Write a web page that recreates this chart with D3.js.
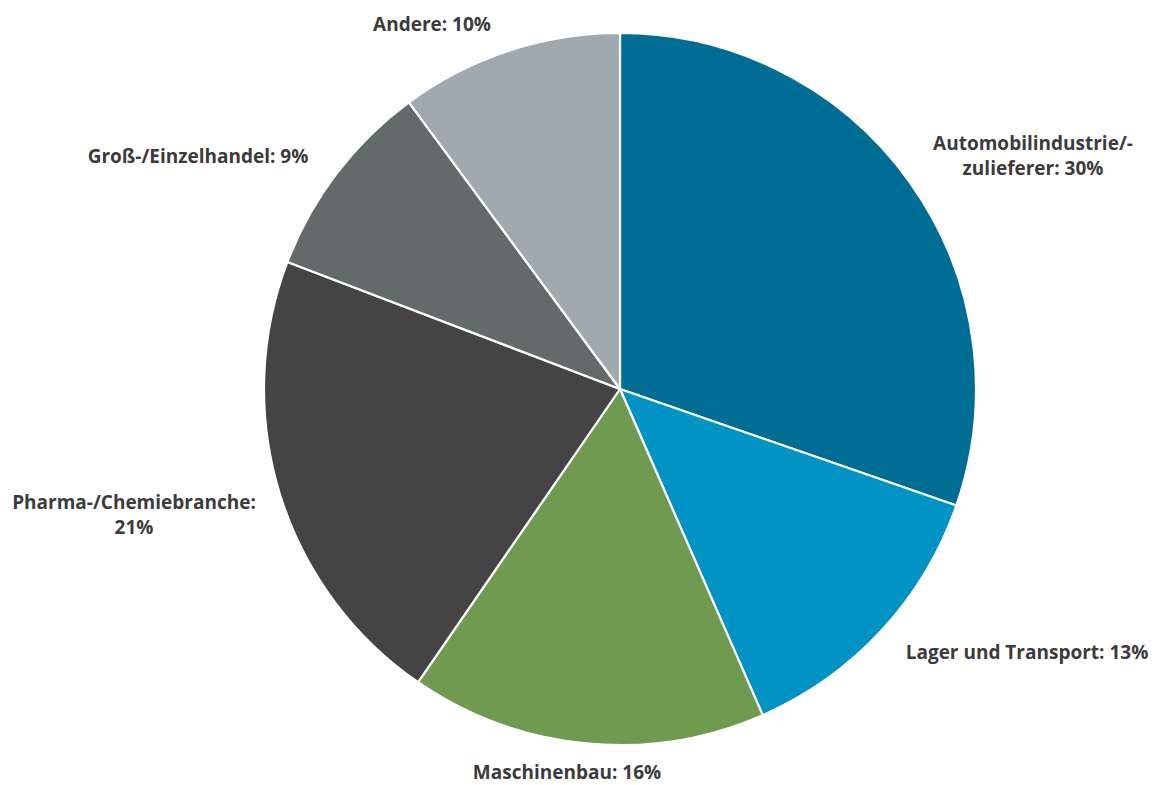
<!DOCTYPE html>
<html>
<head>
<meta charset="utf-8">
<script src="https://cdn.jsdelivr.net/npm/d3@7"></script>
<style>
  html, body { margin: 0; padding: 0; background: #ffffff; }
  svg { display: block; }
  .lbl { font-family: "Open Sans", "Noto Sans", sans-serif; font-weight: 700; font-size: 19px; fill: #3b3b3b; }
</style>
</head>
<body>
<svg id="chart" width="1158" height="785"></svg>
<script>
// Branchenverteilung (Anteile in %)
const categories = ["Automobilindustrie/-zulieferer", "Lager und Transport", "Maschinenbau", "Pharma-/Chemiebranche", "Groß-/Einzelhandel", "Andere"];
const values = [30, 13, 16, 21, 9, 10];
const labelLines = [
  ["Automobilindustrie/-", "zulieferer: 30%"],
  ["Lager und Transport: 13%"],
  ["Maschinenbau: 16%"],
  ["Pharma-/Chemiebranche:", "21%"],
  ["Groß-/Einzelhandel: 9%"],
  ["Andere: 10%"]
];
const colors = ["#006d95", "#0093c3", "#719a51", "#444444", "#626a6a", "#a1a9b0"];

// label anchor points (centre of text block, first baseline)
const labelPos = [
  [1033, 150], [1027, 659], [567, 779], [134, 509], [198, 163], [432, 31]
];

const svg = d3.select("#chart");
const cx = 620, cy = 389, r = 356;

const pie = d3.pie().sort(null).value(d => d)
  .startAngle(0).endAngle(2 * Math.PI);
const arc = d3.arc().innerRadius(0).outerRadius(r);

const g = svg.append("g").attr("transform", `translate(${cx},${cy})`);
g.selectAll("path")
  .data(pie(values))
  .join("path")
  .attr("d", arc)
  .attr("fill", (d, i) => colors[i])
  .attr("stroke", "#ffffff")
  .attr("stroke-width", 2.2)
  .attr("stroke-linejoin", "round");

const labels = svg.append("g");
labelLines.forEach((lines, i) => {
  const t = labels.append("text")
    .attr("class", "lbl")
    .attr("text-anchor", "middle")
    .attr("x", labelPos[i][0])
    .attr("y", labelPos[i][1]);
  lines.forEach((s, j) => {
    t.append("tspan")
      .attr("x", labelPos[i][0])
      .attr("dy", j === 0 ? 0 : 25)
      .text(s);
  });
});
</script>
</body>
</html>
